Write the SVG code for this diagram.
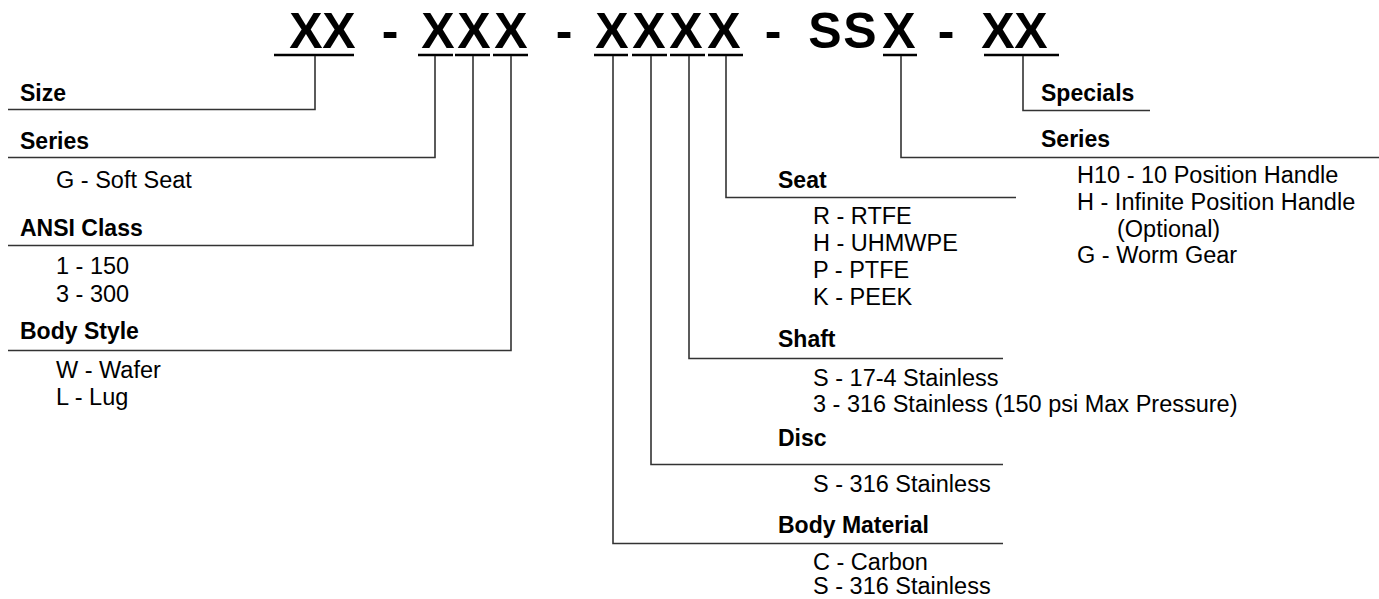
<svg xmlns="http://www.w3.org/2000/svg" width="1379" height="599" viewBox="0 0 1379 599">
<style>
.t{font-family:"Liberation Sans",Arial,sans-serif;font-weight:bold;font-size:50px;fill:#000;text-anchor:middle}
.h{font-family:"Liberation Sans",Arial,sans-serif;font-weight:bold;font-size:23px;fill:#000}
.i{font-family:"Liberation Sans",Arial,sans-serif;font-size:23.5px;fill:#000}
.u{stroke:#000;stroke-width:2.5;fill:none}
.c{stroke:#333;stroke-width:1.6;fill:none}
</style>
<rect width="1379" height="599" fill="#fff"/>
<g id="title">
<text class="t" x="306" y="48">X</text><text class="t" x="339" y="48">X</text>
<text class="t" x="390" y="48">-</text>
<text class="t" x="438" y="48">X</text><text class="t" x="474" y="48">X</text><text class="t" x="511" y="48">X</text>
<text class="t" x="564" y="48">-</text>
<text class="t" x="612" y="48">X</text><text class="t" x="649" y="48">X</text><text class="t" x="686" y="48">X</text><text class="t" x="724" y="48">X</text>
<text class="t" x="773" y="48">-</text>
<text class="t" x="825" y="48">S</text><text class="t" x="860" y="48">S</text><text class="t" x="899" y="48">X</text>
<text class="t" x="946" y="48">-</text>
<text class="t" x="998" y="48">X</text><text class="t" x="1031" y="48">X</text>
<path class="u" d="M274 55H354M418 55H453M455 55H490M493 55H528M594 55H628M632 55H667M670 55H705M708 55H743M883 55H917M984 55H1059"/>
</g>
<g id="connectors">
<path class="c" d="M315 56V109.5H8"/>
<path class="c" d="M435 56V157.5H8"/>
<path class="c" d="M473 56V245.5H8"/>
<path class="c" d="M511 56V350.5H8"/>
<path class="c" d="M613 56V543.5H1003"/>
<path class="c" d="M651 56V464.5H1003"/>
<path class="c" d="M689 56V358.5H1003"/>
<path class="c" d="M726 56V197.5H1016"/>
<path class="c" d="M901 56V157.5H1379"/>
<path class="c" d="M1023 56V110.5H1150"/>
</g>
<g id="size"><text class="h" x="20" y="101">Size</text></g>
<g id="series-left"><text class="h" x="20" y="149">Series</text><text class="i" x="56" y="188">G - Soft Seat</text></g>
<g id="ansi"><text class="h" x="20" y="236">ANSI Class</text><text class="i" x="56" y="274">1 - 150</text><text class="i" x="56" y="302">3 - 300</text></g>
<g id="body-style"><text class="h" x="20" y="339">Body Style</text><text class="i" x="56" y="378">W - Wafer</text><text class="i" x="56" y="405">L - Lug</text></g>
<g id="specials"><text class="h" x="1041" y="101">Specials</text></g>
<g id="series-right"><text class="h" x="1041" y="147">Series</text>
<text class="i" x="1077" y="183">H10 - 10 Position Handle</text>
<text class="i" x="1077" y="210">H - Infinite Position Handle</text>
<text class="i" x="1117" y="237">(Optional)</text>
<text class="i" x="1077" y="263">G - Worm Gear</text></g>
<g id="seat"><text class="h" x="778" y="188">Seat</text>
<text class="i" x="813" y="224">R - RTFE</text><text class="i" x="813" y="251">H - UHMWPE</text><text class="i" x="813" y="278">P - PTFE</text><text class="i" x="813" y="305">K - PEEK</text></g>
<g id="shaft"><text class="h" x="778" y="347">Shaft</text>
<text class="i" x="813" y="386">S - 17-4 Stainless</text><text class="i" x="813" y="412">3 - 316 Stainless (150 psi Max Pressure)</text></g>
<g id="disc"><text class="h" x="778" y="446">Disc</text><text class="i" x="813" y="492">S - 316 Stainless</text></g>
<g id="body-material"><text class="h" x="778" y="533">Body Material</text>
<text class="i" x="813" y="570">C - Carbon</text><text class="i" x="813" y="594">S - 316 Stainless</text></g>
</svg>
